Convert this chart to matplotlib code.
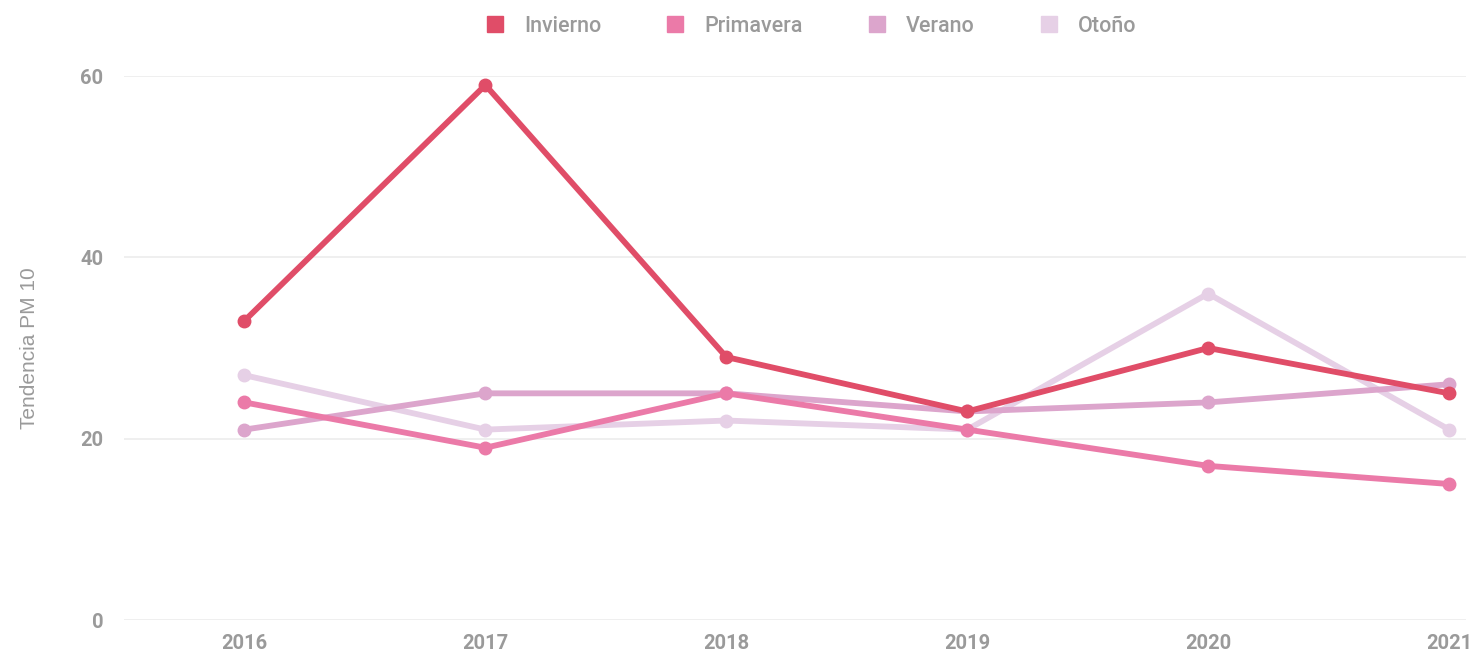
import matplotlib
matplotlib.use("Agg")
import matplotlib.pyplot as plt
from matplotlib.lines import Line2D

# PM10 trend per season
years = [2016, 2017, 2018, 2019, 2020, 2021]
invierno = [33, 59, 29, 23, 30, 25]
primavera = [24, 19, 25, 21, 17, 15]
verano = [21, 25, 25, 23, 24, 26]
otono = [27, 21, 22, 21, 36, 21]

series_names = ["Invierno", "Primavera", "Verano", "Otoño"]
series_values = [invierno, primavera, verano, otono]
colors = ["#e04d68", "#eb7aa8", "#dca5cc", "#e6d0e6"]
yticks = [0, 20, 40, 60]

plt.rcParams["font.family"] = ["Roboto", "DejaVu Sans"]

W, H = 1476, 657
fig = plt.figure(figsize=(W / 100, H / 100), dpi=100)
ax = fig.add_axes([124 / W, 1 - 620 / H, (1466 - 124) / W, (620 - 76) / H])

# draw back to front so winter sits on top
for name, vals, col in reversed(list(zip(series_names, series_values, colors))):
    ax.plot(years, vals, color=col, lw=4.2, marker="o", ms=9,
            solid_joinstyle="round", clip_on=False, zorder=3)

ax.set_xlim(2015.5, 2021.07)
ax.set_ylim(0, 60)
ax.set_xticks(years)
ax.set_xticklabels([str(y) for y in years])
ax.set_yticks(yticks)
ax.grid(axis="y", color="#ececec", lw=1.2)
ax.set_axisbelow(True)
for s in ax.spines.values():
    s.set_visible(False)
ax.tick_params(length=0, colors="#9a9a9a", labelsize=14.5)
ax.tick_params(axis="x", pad=10)
ax.tick_params(axis="y", pad=15)
for lab in ax.get_xticklabels() + ax.get_yticklabels():
    lab.set_fontweight("bold")

fig.text(30 / W, 1 - 348 / H, "Tendencia PM 10", rotation=90, ha="center",
         va="center", color="#9a9a9a", fontsize=15, family="Liberation Sans")

handles = [Line2D([], [], ls="none", marker="s", ms=12, color=c) for c in colors]
leg = fig.legend(handles, series_names, loc="center", ncol=4,
                 bbox_to_anchor=(805 / W, 1 - 26 / H), frameon=False,
                 handletextpad=0.35, columnspacing=2.45, fontsize=15.5)
for t in leg.get_texts():
    t.set_color("#9a9a9a")
    t.set_fontweight("medium")

fig.savefig("out.png", dpi=100, facecolor="white")
